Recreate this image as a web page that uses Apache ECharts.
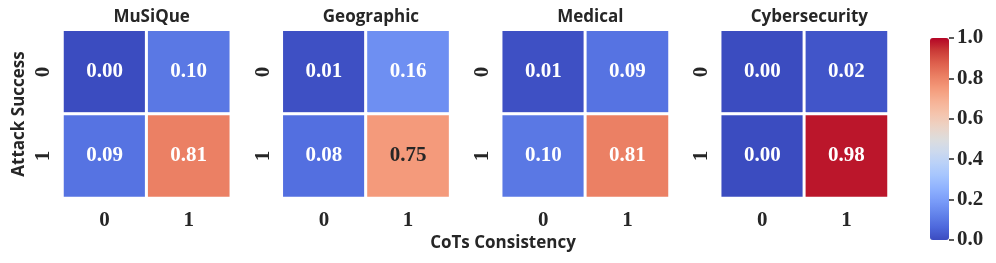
<!DOCTYPE html>
<html>
<head>
<meta charset="utf-8">
<script src="https://cdn.jsdelivr.net/npm/echarts@6/dist/echarts.min.js"></script>
<style>
html,body{margin:0;padding:0;background:#fff;}
#chart{width:996px;height:263px;}
</style>
</head>
<body>
<div id="chart"></div>
<script>
// ---- data ----
const panelTitles = ['MuSiQue', 'Geographic', 'Medical', 'Cybersecurity'];
const xCategories = ['0', '1'];   // CoTs Consistency
const yCategories = ['0', '1'];   // Attack Success
// rows = Attack Success (0,1), columns = CoTs Consistency (0,1)
const musique       = [[0.00, 0.10], [0.09, 0.81]];
const geographic    = [[0.01, 0.16], [0.08, 0.75]];
const medical       = [[0.01, 0.09], [0.10, 0.81]];
const cybersecurity = [[0.00, 0.02], [0.00, 0.98]];
const colorbarMin = 0, colorbarMax = 1, colorbarStep = 0.2;
const xAxisTitle = 'CoTs Consistency';
const yAxisTitle = 'Attack Success';

const matrices = [musique, geographic, medical, cybersecurity];

// ---- coolwarm colormap ----
const coolwarm = [
  [59,76,192],[77,104,220],[98,130,234],[120,154,248],[141,176,254],
  [163,195,254],[184,208,249],[204,217,238],[221,220,220],[236,211,197],
  [245,196,173],[246,178,149],[244,154,123],[235,127,99],[222,96,77],
  [202,59,55],[180,4,38]
];
const toHex = c => '#' + c.map(v => Math.round(v).toString(16).padStart(2, '0')).join('');
function cmap(v) {
  const t = Math.max(0, Math.min(1, (v - colorbarMin) / (colorbarMax - colorbarMin))) * (coolwarm.length - 1);
  const i = Math.min(Math.floor(t), coolwarm.length - 2), f = t - i;
  return coolwarm[i].map((a, k) => a + (coolwarm[i + 1][k] - a) * f);
}
function textColor(v) {
  const lin = cmap(v).map(c => { c /= 255; return c <= 0.03928 ? c / 12.92 : Math.pow((c + 0.055) / 1.055, 2.4); });
  const lum = 0.2126 * lin[0] + 0.7152 * lin[1] + 0.0722 * lin[2];
  return lum > 0.408 ? '#262626' : '#ffffff';
}

// ---- layout ----
const SERIF = '"Liberation Serif", serif';
const SANS = '"Open Sans", sans-serif';
const INK = '#262626';
const gridLefts = [62.5, 281.8, 501.2, 720.2];
const gridTop = 29.8, gridSize = 168.3;

const grids = [], xAxes = [], yAxes = [], series = [], titles = [];
matrices.forEach((m, p) => {
  grids.push({ left: gridLefts[p], top: gridTop, width: gridSize, height: gridSize });
  xAxes.push({
    type: 'category', gridIndex: p, data: xCategories, position: 'bottom',
    axisLine: { show: false }, axisTick: { show: false }, splitLine: { show: false },
    axisLabel: { fontFamily: SERIF, fontWeight: 'bold', fontSize: 21, color: INK, margin: 12 }
  });
  yAxes.push({
    type: 'category', gridIndex: p, data: yCategories, inverse: true,
    axisLine: { show: false }, axisTick: { show: false }, splitLine: { show: false },
    axisLabel: { fontFamily: SERIF, fontWeight: 'bold', fontSize: 21, color: INK, rotate: 90, margin: 8 },
    name: p === 0 ? yAxisTitle : '', nameLocation: 'middle', nameRotate: 90, nameGap: 35,
    nameTextStyle: { fontFamily: SANS, fontWeight: 'bold', fontSize: 17, color: INK }
  });
  const data = [];
  m.forEach((row, r) => row.forEach((v, c) => {
    data.push({ value: [c, r, v], label: { color: textColor(v) } });
  }));
  series.push({
    type: 'heatmap', xAxisIndex: p, yAxisIndex: p, data: data,
    itemStyle: { borderColor: '#ffffff', borderWidth: 3 },
    label: {
      show: true, fontFamily: SERIF, fontWeight: 'bold', fontSize: 21,
      formatter: prm => prm.value[2].toFixed(2)
    },
    emphasis: { disabled: true }
  });
  titles.push({
    text: panelTitles[p], left: gridLefts[p] + gridSize / 2, top: 4, textAlign: 'center',
    textStyle: { fontFamily: SANS, fontWeight: 'bold', fontSize: 17, color: INK }
  });
});
titles.push({
  text: xAxisTitle, left: 498, top: 230, textAlign: 'center',
  textStyle: { fontFamily: SANS, fontWeight: 'bold', fontSize: 17, color: INK }
});

// colorbar axis
const cbLeft = 930, cbTop = 38, cbWidth = 19, cbHeight = 202;
grids.push({ left: cbLeft, top: cbTop, width: cbWidth, height: cbHeight });
xAxes.push({ type: 'category', gridIndex: 4, show: false, data: [''], axisLine: { onZero: false } });
yAxes.push({
  type: 'value', gridIndex: 4, position: 'right', min: colorbarMin, max: colorbarMax, interval: colorbarStep,
  axisLine: { show: false, onZero: false }, splitLine: { show: false },
  axisTick: { show: true, inside: false, length: 5, lineStyle: { color: INK, width: 1.5 } },
  axisLabel: { fontFamily: SERIF, fontWeight: 'bold', fontSize: 21, color: INK, margin: 8,
               formatter: v => v.toFixed(1) }
});
// empty carrier series so the colorbar axis is laid out with its ticks
series.push({ type: 'line', xAxisIndex: 4, yAxisIndex: 4, data: [], silent: true });

const chart = echarts.init(document.getElementById('chart'), null, { renderer: 'canvas' });
chart.setOption({
  animation: false,
  backgroundColor: '#ffffff',
  title: titles,
  grid: grids,
  xAxis: xAxes,
  yAxis: yAxes,
  visualMap: {
    type: 'continuous', min: colorbarMin, max: colorbarMax, seriesIndex: [0, 1, 2, 3],
    orient: 'vertical', left: cbLeft, top: cbTop, itemWidth: cbWidth, itemHeight: cbHeight,
    calculable: false, text: null, showLabel: false, padding: 0, hoverLink: false,
    inRange: { color: coolwarm.map(toHex) }
  },
  series: series
});
</script>
</body>
</html>
